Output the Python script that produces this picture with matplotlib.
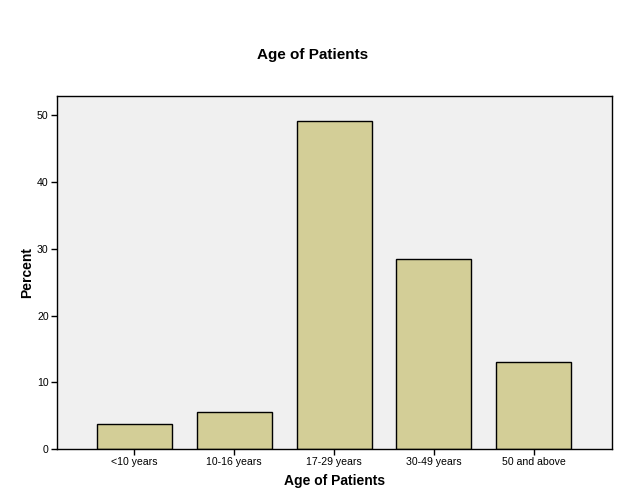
import numpy as np
import matplotlib.pyplot as plt

plt.rcParams['font.family'] = ['Liberation Sans', 'DejaVu Sans']

# Datos
categories = ['<10 years', '10-16 years', '17-29 years', '30-49 years', '50 and above']
percent = [3.8, 5.6, 49.2, 28.5, 13.0]
y_ticks = [0, 10, 20, 30, 40, 50]

fig = plt.figure(figsize=(6.26, 5.01), dpi=100)
ax = fig.add_axes([57 / 626, 52 / 501, 555 / 626, 353 / 501])
ax.set_facecolor('#f0f0f0')

x = np.arange(len(categories))
ax.bar(x, percent, width=0.75, color='#d3ce97', edgecolor='black', linewidth=1.0, zorder=2)

ax.set_xlim(-0.77, 4.78)
ax.set_ylim(0, 52.9)
ax.set_xticks(x)
ax.set_xticklabels(categories, fontsize=7.6)
ax.set_yticks(y_ticks)
ax.set_yticklabels([str(v) for v in y_ticks], fontsize=7.6)
ax.tick_params(axis='both', direction='out', length=4, width=1, pad=2)

for s in ax.spines.values():
    s.set_linewidth(1.0)

ax.set_xlabel('Age of Patients', fontsize=10, fontweight='bold', labelpad=5)
ax.set_ylabel('Percent', fontsize=10, fontweight='bold', labelpad=2)
fig.text(313 / 626, 1 - 55 / 501, 'Age of Patients', ha='center', va='center',
         fontsize=11, fontweight='bold')

fig.savefig('out.png', dpi=100)
